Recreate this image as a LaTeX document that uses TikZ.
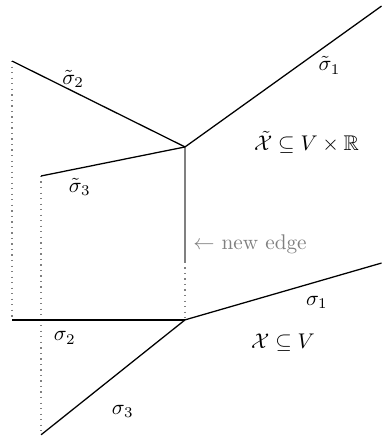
\documentclass[tikz,border=0pt]{standalone}
\usepackage{amsmath,amssymb}
\usetikzlibrary{positioning, calc}

\begin{document}
\begin{tikzpicture}[
    edge/.style={line width=0.6pt},
    proj/.style={dotted, gray, line width=0.6pt},
    newedge/.style={gray, line width=0.6pt}
  ]
  \useasboundingbox (0,0) rectangle (6.31,7.26);
  % lifted complex
  \coordinate (tapex) at (3.06,4.83);
  \coordinate (tend1) at (6.31,7.16);
  \coordinate (tend2) at (0.20,6.25);
  \coordinate (tend3) at (0.68,4.35);
  % base complex
  \coordinate (apex) at (3.06,1.97);
  \coordinate (end1) at (6.31,2.91);
  \coordinate (end2) at (0.20,1.97);
  \coordinate (end3) at (0.68,0.07);
  \coordinate (cut)  at (3.06,2.93);

  \draw[proj] (tend2) -- (end2);
  \draw[proj] (tend3) -- (end3);
  \draw[proj] (cut) -- (apex);
  \draw[newedge] (tapex) -- (cut);

  \draw[edge] (tapex) -- (tend1);
  \draw[edge] (tapex) -- (tend2);
  \draw[edge] (tapex) -- (tend3);
  \draw[edge] (apex) -- (end1);
  \draw[edge] (apex) -- (end2);
  \draw[edge] (apex) -- (end3);

  \node (ls1) at (5.45,6.18) {$\tilde\sigma_1$};
  \node (ls2) at (1.21,5.95) {$\tilde\sigma_2$};
  \node (ls3) at (1.32,4.17) {$\tilde\sigma_3$};
  \node (lspace) at (5.07,4.91) {$\tilde{\mathcal{X}} \subseteq V \times \mathbb{R}$};
  \node[gray, anchor=west, inner sep=0pt] (lnew) at (3.19,3.22) {$\leftarrow$ new edge};
  \node (s1) at (5.24,2.26) {$\sigma_1$};
  \node (s2) at (1.07,1.67) {$\sigma_2$};
  \node (s3) at (2.03,0.45) {$\sigma_3$};
  \node (space) at (4.68,1.59) {$\mathcal{X} \subseteq V$};
\end{tikzpicture}
\end{document}
